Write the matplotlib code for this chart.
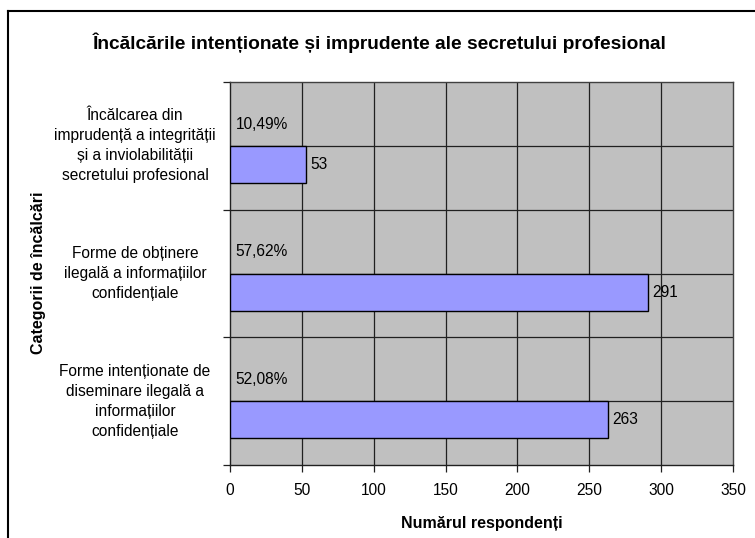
import matplotlib
matplotlib.use("Agg")
import matplotlib.pyplot as plt
from matplotlib.lines import Line2D

plt.rcParams['font.family'] = ['Liberation Sans', 'DejaVu Sans']

categories = [
    "Încălcarea din\nimprudență a integrității\nși a inviolabilității\nsecretului profesional",
    "Forme de obținere\nilegală a informațiilor\nconfidențiale",
    "Forme intenționate de\ndiseminare ilegală a\ninformațiilor\nconfidențiale",
]
values = [53, 291, 263]
percent_labels = ["10,49%", "57,62%", "52,08%"]
xticks = [0, 50, 100, 150, 200, 250, 300, 350]

W, H = 755, 538
fig = plt.figure(figsize=(W / 100, H / 100), dpi=100)

# plot area in pixels: left 230, right 733, top 82, bottom 465
l, r, t, b = 230, 733, 82, 465
ax = fig.add_axes([l / W, 1 - b / H, (r - l) / W, (b - t) / H])
ax.set_facecolor('#C0C0C0')
ax.set_xlim(0, 350)
ax.set_ylim(3, 0)

FS = 11.2

n = len(categories)
centers = [i + 0.645 for i in range(n)]
ax.barh(centers, values, height=0.29, color='#9999FF', edgecolor='black',
        linewidth=1.0, zorder=3)

for i, (v, p) in enumerate(zip(values, percent_labels)):
    ax.text(v + 3, centers[i], str(v), va='center', ha='left', fontsize=FS, zorder=4)
    ax.text(4, i + 0.33, p, va='center', ha='left', fontsize=FS, zorder=4)

# gridlines
for xv in xticks[1:-1]:
    ax.axvline(xv, color='#202020', linewidth=0.9, zorder=1)
for yv in [0.5, 1, 1.5, 2, 2.5]:
    ax.axhline(yv, color='#202020', linewidth=0.9, zorder=1)

ax.set_xticks(xticks)
ax.set_xticklabels([str(x) for x in xticks], fontsize=FS)
ax.set_yticks([0, 1, 2, 3])
ax.set_yticklabels([])
ax.tick_params(axis='both', direction='out', length=5, width=0.9, color='#202020')
ax.tick_params(axis='x', pad=8)

for i, c in enumerate(categories):
    ax.text((135 - l) / (r - l), 1 - (i + 0.5) / 3, c, transform=ax.transAxes,
            ha='center', va='center', fontsize=FS, linespacing=1.42)

for s in ['left', 'bottom']:
    ax.spines[s].set_color('#202020')
    ax.spines[s].set_linewidth(1.0)
for s in ['top', 'right']:
    ax.spines[s].set_color('#404040')
    ax.spines[s].set_linewidth(1.0)

ax.set_xlabel("Numărul respondenți", fontsize=11.5, fontweight='bold', labelpad=13)
fig.text(39 / W, 1 - 273 / H, "Categorii de încălcări", rotation=90, fontsize=11.5,
         fontweight='bold', ha='center', va='center')
fig.text(380 / W, 1 - 43 / H, "Încălcările intenționate și imprudente ale secretului profesional",
         fontsize=13.8, fontweight='bold', ha='center', va='center')

# chart border (top and left)
fig.add_artist(Line2D([8 / W, 8 / W], [0, 1 - 11 / H], transform=fig.transFigure,
                      color='black', linewidth=1.5))
fig.add_artist(Line2D([8 / W, 1], [1 - 11 / H, 1 - 11 / H], transform=fig.transFigure,
                      color='black', linewidth=1.5))

fig.savefig('out.png', dpi=100)
